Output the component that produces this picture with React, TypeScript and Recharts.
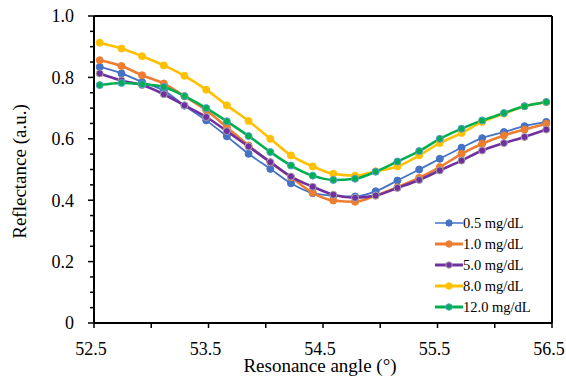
import React from 'react';
import { LineChart, Line, XAxis, YAxis, ReferenceLine, Legend } from 'recharts';

const angles = [52.55, 52.74, 52.92, 53.11, 53.29, 53.48, 53.66, 53.85, 54.04, 54.22, 54.41, 54.59, 54.78, 54.96, 55.15, 55.34, 55.52, 55.71, 55.89, 56.08, 56.26, 56.45];
const c05 = [0.834, 0.813, 0.785, 0.757, 0.708, 0.66, 0.608, 0.551, 0.502, 0.455, 0.423, 0.415, 0.412, 0.429, 0.464, 0.5, 0.535, 0.571, 0.602, 0.622, 0.641, 0.655];
const c10 = [0.856, 0.837, 0.807, 0.78, 0.739, 0.693, 0.638, 0.578, 0.524, 0.475, 0.424, 0.399, 0.395, 0.415, 0.442, 0.473, 0.508, 0.551, 0.584, 0.611, 0.63, 0.649];
const c50 = [0.813, 0.79, 0.775, 0.745, 0.709, 0.671, 0.625, 0.575, 0.524, 0.477, 0.444, 0.418, 0.408, 0.415, 0.44, 0.466, 0.497, 0.529, 0.562, 0.586, 0.606, 0.63];
const c80 = [0.913, 0.894, 0.869, 0.839, 0.805, 0.76, 0.709, 0.658, 0.6, 0.546, 0.51, 0.486, 0.48, 0.494, 0.51, 0.546, 0.586, 0.619, 0.655, 0.682, 0.706, 0.719];
const c120 = [0.775, 0.782, 0.778, 0.769, 0.739, 0.7, 0.657, 0.609, 0.557, 0.513, 0.48, 0.466, 0.47, 0.493, 0.526, 0.56, 0.6, 0.633, 0.66, 0.684, 0.706, 0.72];

const seriesNames = ['0.5 mg/dL', '1.0 mg/dL', '5.0 mg/dL', '8.0 mg/dL', '12.0 mg/dL'];
const seriesValues = [c05, c10, c50, c80, c120];

const xTicks = [52.5, 53, 53.5, 54, 54.5, 55, 55.5, 56, 56.5];
const xTickLabels = ['52.5', '53.5', '54.5', '55.5', '56.5'];
const yTicks = [0, 0.05, 0.1, 0.15, 0.2, 0.25, 0.3, 0.35, 0.4, 0.45, 0.5, 0.55, 0.6, 0.65, 0.7, 0.75, 0.8, 0.85, 0.9, 0.95, 1];
const yTickLabels = ['0', '0.2', '0.4', '0.6', '0.8', '1.0'];

const styles = [
  { color: '#4472C4', width: 1.8, legendWidth: 1.5, marker: '#4472C4' },
  { color: '#ED7D31', width: 2.6, legendWidth: 3, marker: '#ED7D31' },
  { color: '#7030A0', width: 2.6, legendWidth: 3, marker: '#A5A5A5' },
  { color: '#FFC000', width: 2.6, legendWidth: 3, marker: '#FFC000' },
  { color: '#00B050', width: 2.6, legendWidth: 3, marker: '#5B9BD5' },
];

const FONT = 'Liberation Serif, Tinos, Times New Roman, DejaVu Serif, serif';

const data = angles.map((a, i) => {
  const row: Record<string, number> = { x: a };
  seriesNames.forEach((n, k) => {
    row[n] = seriesValues[k][i];
  });
  return row;
});

const XTick = (props: any) => {
  const { x, y, payload } = props;
  const v = payload.value as number;
  const label = xTickLabels.find((l) => Math.abs(parseFloat(l) - v) < 1e-6);
  return (
    <g>
      <line x1={x} x2={x} y1={y} y2={y + 5} stroke="#000" strokeWidth={1.5} />
      {label && (
        <text x={x - 3} y={y + 32} textAnchor="middle" style={{ fontFamily: FONT, fontSize: 18 }} fill="#000">
          {label}
        </text>
      )}
    </g>
  );
};

const YTick = (props: any) => {
  const { x, y, payload } = props;
  const v = payload.value as number;
  const label = yTickLabels.find((l) => Math.abs(parseFloat(l) - v) < 1e-6);
  const len = label ? 6 : 4;
  return (
    <g>
      <line x1={x - len} x2={x} y1={y} y2={y} stroke="#000" strokeWidth={1.5} />
      {label && (
        <text x={x - 20} y={y} dy="0.35em" textAnchor="end" style={{ fontFamily: FONT, fontSize: 18 }} fill="#000">
          {label}
        </text>
      )}
    </g>
  );
};

const renderLegend = () => (
  <div style={{ fontFamily: FONT, fontSize: 14.5, color: '#000', background: '#fff' }}>
    {seriesNames.map((n, k) => (
      <div key={n} style={{ display: 'flex', alignItems: 'center', height: 21.2 }}>
        <svg width={30} height={12} style={{ display: 'block' }}>
          <line x1={2} x2={30} y1={6} y2={6} stroke={styles[k].color} strokeWidth={styles[k].legendWidth} />
          <circle cx={16} cy={6} r={3.2} fill={styles[k].color} stroke={styles[k].marker} strokeWidth={1} />
        </svg>
        <span style={{ lineHeight: '14px' }}>{n}</span>
      </div>
    ))}
  </div>
);

export default function App() {
  return (
    <div style={{ position: 'absolute', left: 0, top: 0, width: 566, height: 376, background: '#fff' }}>
      <LineChart width={566} height={376} data={data} margin={{ top: 16, right: 14, left: 0, bottom: 0 }}>
        <XAxis
          dataKey="x"
          type="number"
          domain={[52.5, 56.5]}
          ticks={xTicks}
          interval={0}
          tickSize={0}
          tickMargin={0}
          tickLine={false}
          tick={<XTick />}
          height={53}
          axisLine={{ stroke: '#000', strokeWidth: 2 }}
          allowDataOverflow
          label={{
            content: (p: any) => {
              const vb = p.viewBox;
              return (
                <text x={vb.x + vb.width / 2 - 3} y={vb.y + 49} textAnchor="middle" style={{ fontFamily: FONT, fontSize: 19 }} fill="#000">
                  Resonance angle (°)
                </text>
              );
            },
          }}
        />
        <YAxis
          type="number"
          domain={[0, 1]}
          ticks={yTicks}
          interval={0}
          tickSize={0}
          tickMargin={0}
          tickLine={false}
          tick={<YTick />}
          width={94}
          axisLine={{ stroke: '#000', strokeWidth: 2 }}
          allowDataOverflow
          label={{
            content: (p: any) => {
              const vb = p.viewBox;
              const cy = vb.y + vb.height / 2 + 2;
              return (
                <text
                  x={19}
                  y={cy}
                  transform={`rotate(-90, 19, ${cy})`}
                  textAnchor="middle"
                  dominantBaseline="central"
                  style={{ fontFamily: FONT, fontSize: 19 }}
                  fill="#000"
                >
                  Reflectance (a.u.)
                </text>
              );
            },
          }}
        />
        <ReferenceLine y={1} stroke="#000" strokeWidth={2} />
        <ReferenceLine x={56.5} stroke="#000" strokeWidth={2} />
        {seriesNames.map((n, k) => (
          <Line
            key={n}
            dataKey={n}
            type="monotone"
            stroke={styles[k].color}
            strokeWidth={styles[k].width}
            dot={{ r: 3.5, fill: styles[k].color, stroke: styles[k].marker, strokeWidth: 1 }}
            isAnimationActive={false}
          />
        ))}
        <Legend
          layout="vertical"
          align="center"
          verticalAlign="middle"
          content={renderLegend}
          wrapperStyle={{ left: 433, top: 212, width: 118, height: 106 }}
        />
      </LineChart>
    </div>
  );
}
